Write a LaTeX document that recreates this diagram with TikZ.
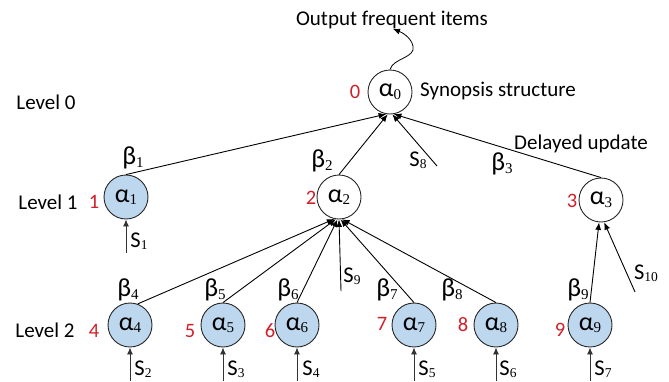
\documentclass[tikz,border=0pt]{standalone}
\usepackage{fontspec}
\setmainfont{Carlito}
\newfontfamily\subserif{Liberation Serif}
\usetikzlibrary{arrows.meta}
\definecolor{nodeblue}{HTML}{BDD7EE}
\definecolor{numred}{HTML}{D0202A}
% Greek node/edge symbols with serif subscripts
\newcommand{\galpha}[1]{{\fontsize{26}{26}\selectfont α}\raisebox{-2.5pt}{\subserif\fontsize{15}{15}\selectfont #1}}
\newcommand{\gbeta}[1]{{\fontsize{26}{26}\selectfont β}\raisebox{-3pt}{\subserif\fontsize{15}{15}\selectfont #1}}
\newcommand{\sinput}[1]{{\fontsize{22.5}{22.5}\selectfont S}\raisebox{-2pt}{\subserif\fontsize{13.5}{13.5}\selectfont #1}}
\tikzset{
  synode/.style={circle, draw=black!85, line width=0.9pt, minimum size=44pt, inner sep=0pt},
  leafnode/.style={synode, fill=nodeblue},
  edge/.style={line width=0.9pt, -{Latex[length=7.5pt,width=6pt]}},
  inarrow/.style={line width=0.9pt, draw=black!80, -{Latex[length=7pt,width=6pt]}},
  idx/.style={text=numred, font=\fontsize{20.5}{20.5}\selectfont, inner sep=0pt},
  lbl/.style={font=\fontsize{21}{21}\selectfont, inner sep=0pt},
  sym/.style={inner sep=0pt},
}
\begin{document}
\begin{tikzpicture}[x=1pt, y=-1pt]
\useasboundingbox (0,0) rectangle (669,381);

% synopsis tree nodes
\node[synode]   (a0) at (390,92)  {\galpha{0}};
\node[leafnode] (a1) at (126,197) {\galpha{1}};
\node[synode]   (a2) at (339,197) {\galpha{2}};
\node[synode]   (a3) at (601,200) {\galpha{3}};
\node[leafnode] (a4) at (130,325) {\galpha{4}};
\node[leafnode] (a5) at (223,325) {\galpha{5}};
\node[leafnode] (a6) at (297,325) {\galpha{6}};
\node[leafnode] (a7) at (414,325) {\galpha{7}};
\node[leafnode] (a8) at (496,325) {\galpha{8}};
\node[leafnode] (a9) at (590,325) {\galpha{9}};

% node indices
\node[idx] (n0) at (355,92)  {0};
\node[idx] (n1) at (94,202)  {1};
\node[idx] (n2) at (311,198) {2};
\node[idx] (n3) at (572,201) {3};
\node[idx] (n4) at (94,331)  {4};
\node[idx] (n5) at (190,331) {5};
\node[idx] (n6) at (270,331) {6};
\node[idx] (n7) at (382,324) {7};
\node[idx] (n8) at (463,325) {8};
\node[idx] (n9) at (560,330) {9};

% level captions and annotations
\node[lbl] (lv0) at (46,102) {Level 0};
\node[lbl] (lv1) at (48,202) {Level 1};
\node[lbl] (lv2) at (45,330) {Level 2};
\node[lbl] (syn) at (498,91) {Synopsis structure};
\node[lbl] (del) at (581,144) {Delayed update};
\node[lbl] (outtxt) at (392,20) {Output frequent items};

% edge weights
\node[sym] (b1) at (133,158) {\gbeta{1}};
\node[sym] (b2) at (322,161) {\gbeta{2}};
\node[sym] (b3) at (502,164) {\gbeta{3}};
\node[sym] (b4) at (128,290) {\gbeta{4}};
\node[sym] (b5) at (215,290) {\gbeta{5}};
\node[sym] (b6) at (288,290) {\gbeta{6}};
\node[sym] (b7) at (387,290) {\gbeta{7}};
\node[sym] (b8) at (452,290) {\gbeta{8}};
\node[sym] (b9) at (578,290) {\gbeta{9}};

% stream labels
\node[sym] (s1)  at (139,241) {\sinput{1}};
\node[sym] (s2)  at (143,369) {\sinput{2}};
\node[sym] (s3)  at (236,369) {\sinput{3}};
\node[sym] (s4)  at (311,369) {\sinput{4}};
\node[sym] (s5)  at (427,369) {\sinput{5}};
\node[sym] (s6)  at (508,369) {\sinput{6}};
\node[sym] (s7)  at (603,369) {\sinput{7}};
\node[sym] (s8)  at (418,160) {\sinput{8}};
\node[sym] (s9)  at (352,276) {\sinput{9}};
\node[sym] (s10) at (646,273) {\sinput{10}};

% free ends of stream lines
\coordinate (t1) at (126,253);
\coordinate (t2) at (130,381);
\coordinate (t3) at (223,381);
\coordinate (t4) at (297,381);
\coordinate (t5) at (414,381);
\coordinate (t6) at (496,381);
\coordinate (t7) at (590,381);
\coordinate (t8) at (437,166);
\coordinate (t9) at (341,291);
\coordinate (t10) at (635,292);
\coordinate (outend) at (393,29);

% level 1 -> level 0
\draw[edge] (a1.north) -- (a0.-100);
\draw[edge] (a2.north) -- (a0.-96);
\draw[edge] (t8) -- (a0.-84);
\draw[edge] (a3.north) -- (a0.-80);

% level 2 -> level 1
\draw[edge] (a4.70)    -- (a2.-102);
\draw[edge] (a5.north) -- (a2.-98);
\draw[edge] (a6.north) -- (a2.-94);
\draw[edge] (t9)       -- (a2.-90);
\draw[edge] (a7.north) -- (a2.-86);
\draw[edge] (a8.north) -- (a2.-82);
\draw[edge] (a9.north) -- (a3.-95);
\draw[edge] (t10)      -- (a3.-82);

% incoming streams
\draw[inarrow] (t1) -- (a1.south);
\draw[inarrow] (t2) -- (a4.south);
\draw[inarrow] (t3) -- (a5.south);
\draw[inarrow] (t4) -- (a6.south);
\draw[inarrow] (t5) -- (a7.south);
\draw[inarrow] (t6) -- (a8.south);
\draw[inarrow] (t7) -- (a9.south);

% output of frequent items
\draw[line width=0.8pt, -{Latex[length=7pt,width=6pt]}] (a0.north)
  .. controls (393,58) and (416,58) .. (413,46)
  .. controls (411,37) and (401,32) .. (outend);
\end{tikzpicture}
\end{document}
